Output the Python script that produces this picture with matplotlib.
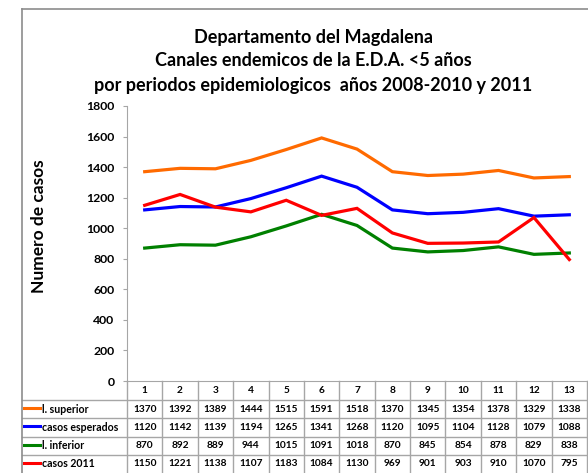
import matplotlib.pyplot as plt
from matplotlib.lines import Line2D

periods = list(range(1, 14))
series_names = ["l. superior", "casos esperados", "l. inferior", "casos 2011"]
l_superior = [1370, 1392, 1389, 1444, 1515, 1591, 1518, 1370, 1345, 1354, 1378, 1329, 1338]
casos_esperados = [1120, 1142, 1139, 1194, 1265, 1341, 1268, 1120, 1095, 1104, 1128, 1079, 1088]
l_inferior = [870, 892, 889, 944, 1015, 1091, 1018, 870, 845, 854, 878, 829, 838]
casos_2011 = [1150, 1221, 1138, 1107, 1183, 1084, 1130, 969, 901, 903, 910, 1070, 795]
y_ticks = [0, 200, 400, 600, 800, 1000, 1200, 1400, 1600, 1800]

series = [l_superior, casos_esperados, l_inferior, casos_2011]
colors = ["#FF6A00", "#0000FF", "#008000", "#FF0000"]

FONT = "Lato"
W, H = 588, 473
fig = plt.figure(figsize=(W / 100, H / 100), dpi=100)


def fx(px):
    return px / W


def fy(py):
    return 1 - py / H


grid_gray = "#A6A6A6"
frame_gray = "#8C8C8C"

# outer chart frame (left and top edges)
fig.add_artist(Line2D([fx(22), fx(22)], [fy(9), fy(473)], color=frame_gray, lw=1.2))
fig.add_artist(Line2D([fx(22), fx(588)], [fy(9), fy(9)], color=frame_gray, lw=1.2))

# plot area
left, right, top, bottom = 127, 587, 106, 381
ax = fig.add_axes([fx(left), fy(bottom), fx(right - left), (bottom - top) / H])
for s, c in zip(series, colors):
    ax.plot(periods, s, color=c, lw=2.3, solid_joinstyle="miter")
x_lo, x_hi = 0.5, 13.5
ax.set_xlim(x_lo, x_hi)
ax.set_ylim(0, 1800)
ax.set_yticks(y_ticks)
ax.set_yticklabels([str(v) for v in y_ticks], fontfamily=FONT, fontweight="bold", fontsize=8.8)
ax.set_xticks([])
for side in ("top", "right"):
    ax.spines[side].set_visible(False)
ax.spines["left"].set_color(grid_gray)
ax.spines["bottom"].set_color(grid_gray)
ax.tick_params(axis="y", length=3, color=grid_gray, pad=6)
ax.set_ylabel("Numero de casos", fontfamily=FONT, fontweight="bold", fontsize=12.5)
ax.yaxis.set_label_coords((47 - left) / (right - left), 0.564)

# title
title_lines = ["Departamento del Magdalena",
               "Canales endemicos de la E.D.A. <5 años",
               "por periodos epidemiologicos  años 2008-2010 y 2011"]
for i, line in enumerate(title_lines):
    fig.text(fx(313), fy(37 + 24 * i), line, ha="center", va="center",
             fontfamily=FONT, fontweight="bold", fontsize=13)

# data table under the plot, sharing the category scale
col_w = (right - left) / (x_hi - x_lo)
tab_left_val = x_lo - (left - 22) / col_w
tab = fig.add_axes([fx(22), fy(473), fx(right - 22), (473 - 381) / H])
tab.set_xlim(tab_left_val, x_hi)
row_h = [19, 18.25, 18.25, 18.25, 18.25]
edges = [0]
for h in row_h:
    edges.append(edges[-1] + h)
tab.set_ylim(edges[-1], 0)
tab.axis("off")

tk = dict(color=grid_gray, lw=1.0, clip_on=False)
# vertical separators
tab.plot([x_lo, x_lo], [0, edges[-1]], **tk)
for k in range(len(periods)):
    xb = x_lo + k + 1
    tab.plot([xb, xb], [0, edges[-1]], **tk)
# horizontal separators
for e in edges[1:-1]:
    tab.plot([tab_left_val, x_hi], [e, e], **tk)

for p in periods:
    tab.text(p, (edges[0] + edges[1]) / 2, str(p), ha="center", va="center",
             fontfamily=FONT, fontweight="bold", fontsize=7.3)
for r, (name, s, c) in enumerate(zip(series_names, series, colors)):
    yc = (edges[r + 1] + edges[r + 2]) / 2
    for p, v in zip(periods, s):
        tab.text(p, yc, str(v), ha="center", va="center",
                 fontfamily=FONT, fontweight="bold", fontsize=7.3)
    x0 = tab_left_val + 2 / col_w
    tab.plot([x0, x0 + 16 / col_w], [yc - 1, yc - 1], color=c, lw=2.2, clip_on=False)
    tab.text(x0 + 18 / col_w, yc, name, ha="left", va="center",
             fontfamily=FONT, fontweight="bold", fontsize=7.6)

fig.savefig("out.png", dpi=100)
